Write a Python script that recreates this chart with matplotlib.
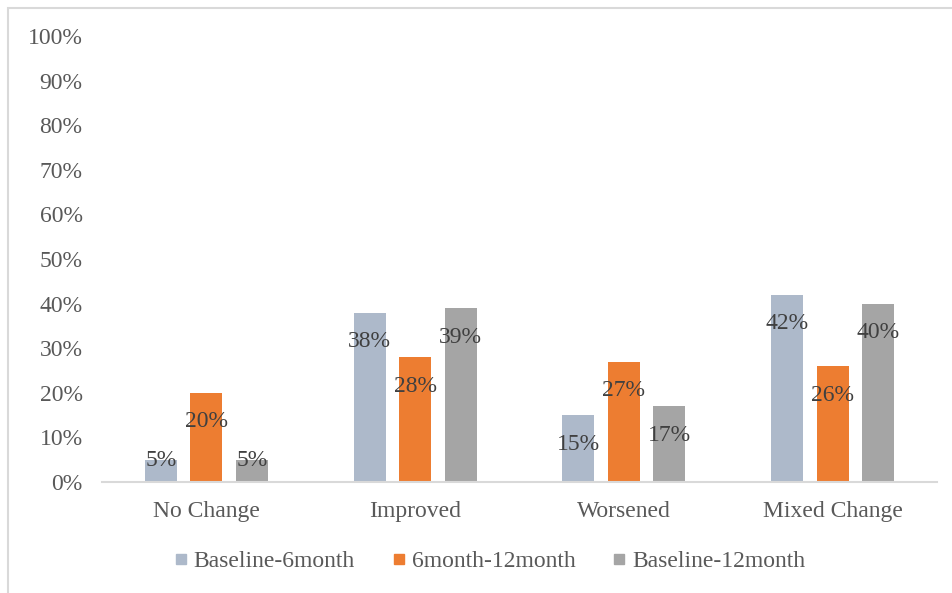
import matplotlib.pyplot as plt
import numpy as np
from matplotlib.lines import Line2D
from matplotlib.patches import Rectangle

plt.rcParams['font.family'] = ['Liberation Serif', 'DejaVu Serif']

categories = ['No Change', 'Improved', 'Worsened', 'Mixed Change']
series_names = ['Baseline-6month', '6month-12month', 'Baseline-12month']
baseline_6m = [5, 38, 15, 42]
m6_12m = [20, 28, 27, 26]
baseline_12m = [5, 39, 17, 40]
colors = ['#ADB9CA', '#ED7D31', '#A5A5A5']

fig = plt.figure(figsize=(9.52, 5.93), dpi=100)
# light chart-area frame (only top/left edges are visible)
fig.patches.append(Rectangle((8 / 952, -0.1), 1.2, 1 - 8 / 593 + 0.1,
                             transform=fig.transFigure, fill=False,
                             edgecolor='#D9D9D9', linewidth=1.5))

ax = fig.add_axes([102 / 952, 1 - 482 / 593, 835 / 952, 446 / 593])

x = np.arange(len(categories))
width = 0.153
offset = 0.218
for i, (vals, col) in enumerate(zip([baseline_6m, m6_12m, baseline_12m], colors)):
    xs = x + (i - 1) * offset
    ax.bar(xs, vals, width, color=col, label=series_names[i], zorder=2)
    for xi, v in zip(xs, vals):
        dy = -29 if v >= 10 else -1
        ax.annotate(f'{v}%', (xi, v), xytext=(0, dy * 0.72), textcoords='offset points',
                    ha='center', va='center', fontsize=17, color='#404040', zorder=3)

ax.set_xlim(-0.5, len(categories) - 0.5)
ax.set_ylim(0, 100)
ax.set_yticks(np.arange(0, 101, 10))
ax.set_yticklabels([f'{t}%' for t in range(0, 101, 10)])
ax.set_xticks(x)
ax.set_xticklabels(categories)
ax.tick_params(axis='both', length=0, labelsize=17, labelcolor='#595959')
ax.tick_params(axis='y', pad=14)
ax.tick_params(axis='x', pad=14)

for s in ['top', 'right', 'left']:
    ax.spines[s].set_visible(False)
ax.spines['bottom'].set_color('#D9D9D9')
ax.spines['bottom'].set_linewidth(1.5)

handles = [Line2D([], [], marker='s', linestyle='none', markersize=7.5,
                  markerfacecolor=c, markeredgecolor=c) for c in colors]
leg = fig.legend(handles, series_names, loc='center', ncol=3,
                 bbox_to_anchor=(490 / 952, 1 - 561 / 593), frameon=False,
                 fontsize=17, handlelength=0.5, handletextpad=0.3, columnspacing=1.6)
for t in leg.get_texts():
    t.set_color('#595959')

fig.savefig('out.png', dpi=100)
